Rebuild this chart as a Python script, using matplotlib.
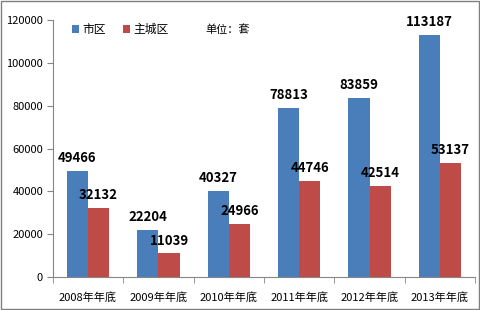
import matplotlib.pyplot as plt
import numpy as np

plt.rcParams['font.family'] = ['Noto Sans CJK SC', 'DejaVu Sans']

categories = ["2008年年底", "2009年年底", "2010年年底", "2011年年底", "2012年年底", "2013年年底"]
city = [49466, 22204, 40327, 78813, 83859, 113187]
core = [32132, 11039, 24966, 44746, 42514, 53137]
yticks = [0, 20000, 40000, 60000, 80000, 100000, 120000]

blue = "#4A7EBB"
red = "#BE4B48"
axis_col = "#868686"

fig = plt.figure(figsize=(4.8, 3.1), dpi=100)
ax = fig.add_axes([0.110, 0.106, 0.880, 0.829])

x = np.arange(len(categories))
w = 0.3
ax.bar(x - w / 2, city, w, color=blue, label="市区")
ax.bar(x + w / 2, core, w, color=red, label="主城区")

for xi, v in zip(x, city):
    ax.text(xi - w / 2, v + 2800, str(v), ha="center", va="bottom",
            fontsize=9.5, fontweight="bold", color="black")
for xi, v in zip(x, core):
    ax.text(xi + w / 2, v + 2800, str(v), ha="center", va="bottom",
            fontsize=9.5, fontweight="bold", color="black")

ax.set_xlim(-0.5, len(categories) - 0.5)
ax.set_ylim(0, 120000)
ax.set_yticks(yticks)
ax.set_yticklabels([str(t) for t in yticks], fontsize=8)
ax.set_xticks(x)
ax.set_xticklabels(categories, fontsize=8)
ax.set_xticks(np.arange(len(categories) + 1) - 0.5, minor=True)
ax.tick_params(axis="x", which="major", length=0, pad=11)
ax.tick_params(axis="x", which="minor", length=4, color=axis_col)
ax.tick_params(axis="y", length=4, color=axis_col, pad=3)

for s in ["top", "right"]:
    ax.spines[s].set_visible(False)
for s in ["left", "bottom"]:
    ax.spines[s].set_color(axis_col)
    ax.spines[s].set_linewidth(0.8)

ax.legend(loc="upper left", bbox_to_anchor=(0.02, 1.03), ncol=2, frameon=False,
          fontsize=8.5, handlelength=0.6, handleheight=0.6, handletextpad=0.3,
          columnspacing=1.4)
fig.text(0.428, 0.905, "单位：套", fontsize=8, ha="left", va="center")

fig.patches.append(plt.Rectangle((0.002, 0.003), 0.995, 0.994, transform=fig.transFigure,
                                 fill=False, edgecolor="#7f7f7f", linewidth=1))

fig.savefig("out.png", dpi=100)
